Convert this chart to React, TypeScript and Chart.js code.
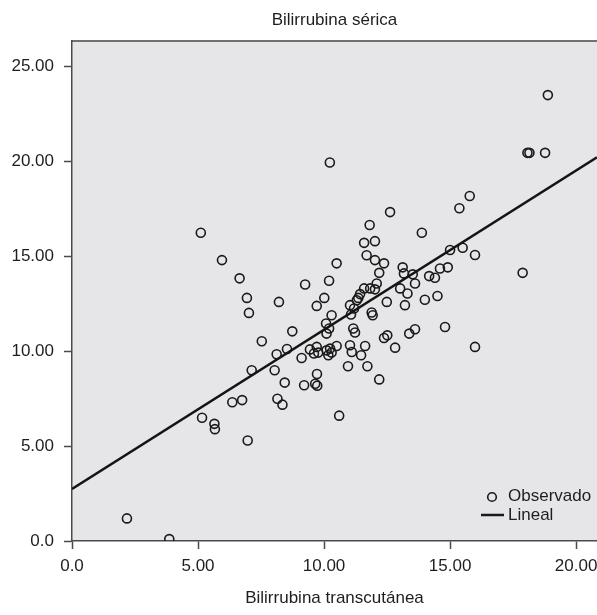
import React, { useEffect, useRef } from "react";
import { Chart, registerables } from "chart.js";

Chart.register(...registerables);

// Observed points: Bilirrubina transcutánea (x) vs Bilirrubina sérica (y)
const obsX: number[] = [
  2.18, 3.86, 5.11, 5.95, 6.65, 6.94, 7.02, 8.21, 9.25, 10.2, 10.5, 10.23,
  7.53, 8.74, 8.53, 8.12, 9.11, 9.44, 9.71, 9.6, 9.77, 10.1, 10.24, 10.17,
  10.3, 10.5, 11.03, 11.1, 11.63, 11.47, 10.95, 11.72, 12.19, 7.13, 8.04, 8.44,
  9.72, 9.21, 9.65, 9.73, 8.15, 8.35, 6.36, 6.75, 5.16, 5.65, 5.67, 6.97,
  10.6, 9.71, 10.01, 11.03, 11.3, 11.36, 11.19, 11.07, 11.89, 11.93, 12.49, 10.3,
  10.08, 10.2, 10.1, 11.16, 11.23, 11.59, 12.02, 11.69, 12.02, 12.38, 12.19, 11.59,
  11.83, 12.02, 12.09, 11.43, 11.81, 12.62, 13.88, 15.0, 15.5, 15.99, 13.12, 13.17,
  13.52, 13.61, 14.17, 14.4, 14.6, 14.91, 13.02, 13.31, 14.0, 14.5, 13.21, 14.8,
  12.38, 12.51, 13.38, 13.61, 12.82, 15.99, 15.37, 15.78, 17.88, 18.07, 18.15, 18.77,
  18.88,
];
const obsY: number[] = [
  1.19, 0.1, 16.23, 14.79, 13.83, 12.8, 12.01, 12.59, 13.51, 13.7, 14.62, 19.93,
  10.52, 11.04, 10.11, 9.83, 9.64, 10.09, 10.22, 9.87, 9.92, 10.04, 10.13, 9.78,
  9.92, 10.27, 10.31, 9.95, 10.27, 9.78, 9.2, 9.2, 8.51, 8.99, 8.99, 8.34,
  8.79, 8.2, 8.28, 8.18, 7.49, 7.18, 7.31, 7.42, 6.49, 6.17, 5.89, 5.29,
  6.6, 12.38, 12.8, 12.42, 12.68, 12.8, 12.24, 11.93, 12.03, 11.89, 12.59, 11.89,
  11.45, 11.19, 10.92, 11.19, 10.98, 15.7, 15.79, 15.05, 14.79, 14.62, 14.12, 13.3,
  13.3, 13.25, 13.56, 13.0, 16.64, 17.32, 16.23, 15.32, 15.44, 15.06, 14.41, 14.09,
  14.04, 13.56, 13.95, 13.86, 14.35, 14.41, 13.3, 13.03, 12.7, 12.9, 12.42, 11.27,
  10.69, 10.83, 10.92, 11.15, 10.18, 10.22, 17.52, 18.17, 14.12, 20.44, 20.44, 20.44,
  23.48,
];

// Linear fit ("Lineal")
const fitX: number[] = [0, 20.83];
const fitY: number[] = [2.74, 20.2];

const xMin = 0;
const xMax = 20.83;
const yMin = 0;
const yMax = 26.36;
const tickStep = 5;

const titleText = "Bilirrubina sérica";
const xTitleText = "Bilirrubina transcutánea";
const legendLabels: string[] = ["Observado", "Lineal"];

const FONT = "'Liberation Sans', Arial, Helvetica, sans-serif";
const TEXT = "#1e1e1e";
const AXIS = "#4a4a4a";
const BG = "#e6e6e8";

const fmt = (v: number) => (v === 0 ? "0.0" : v.toFixed(2));

const bgPlugin = {
  id: "plotBg",
  beforeDraw(chart: any) {
    const { ctx, chartArea: a } = chart;
    ctx.save();
    ctx.fillStyle = BG;
    ctx.fillRect(a.left, a.top, a.right - a.left, a.bottom - a.top);
    ctx.restore();
  },
  afterDraw(chart: any) {
    const { ctx, chartArea: a } = chart;
    ctx.save();
    // top border
    ctx.strokeStyle = AXIS;
    ctx.lineWidth = 1.5;
    ctx.beginPath();
    ctx.moveTo(a.left, a.top + 0.5);
    ctx.lineTo(a.right, a.top + 0.5);
    ctx.stroke();
    // legend
    const cx = a.right - 105;
    const y1 = a.bottom - 45;
    const y2 = a.bottom - 26;
    ctx.strokeStyle = "#1a1a1a";
    ctx.lineWidth = 1.6;
    ctx.beginPath();
    ctx.arc(cx, y1 + 1, 4.3, 0, Math.PI * 2);
    ctx.stroke();
    ctx.lineWidth = 2.5;
    ctx.beginPath();
    ctx.moveTo(a.right - 116, y2);
    ctx.lineTo(a.right - 93, y2);
    ctx.stroke();
    ctx.fillStyle = TEXT;
    ctx.font = `17px ${FONT}`;
    ctx.textAlign = "left";
    ctx.textBaseline = "middle";
    ctx.fillText(legendLabels[0], a.right - 89, y1);
    ctx.fillText(legendLabels[1], a.right - 89, y2);
    ctx.restore();
  },
};

export default function App() {
  const ref = useRef<HTMLCanvasElement | null>(null);
  useEffect(() => {
    if (!ref.current) return;
    const chart = new Chart(ref.current, {
      type: "scatter",
      data: {
        datasets: [
          {
            label: legendLabels[0],
            data: obsX.map((x, i) => ({ x, y: obsY[i] })),
            pointStyle: "circle",
            pointRadius: 4.5,
            pointBorderWidth: 1.6,
            pointBackgroundColor: "rgba(0,0,0,0)",
            pointBorderColor: "#1a1a1a",
            showLine: false,
            order: 2,
          } as any,
          {
            type: "line",
            label: legendLabels[1],
            data: fitX.map((x, i) => ({ x, y: fitY[i] })),
            borderColor: "#141414",
            borderWidth: 2.5,
            pointRadius: 0,
            showLine: true,
            fill: false,
            order: 1,
          } as any,
        ],
      },
      options: {
        responsive: false,
        animation: false,
        layout: { padding: 0, autoPadding: false },
        plugins: {
          legend: { display: false },
          tooltip: { enabled: false },
          title: {
            display: true,
            text: titleText,
            fullSize: false,
            color: TEXT,
            font: { family: FONT, size: 17, weight: "normal", lineHeight: 1.2 },
            padding: { top: 10, bottom: 10 },
          },
        },
        scales: {
          x: {
            type: "linear",
            min: xMin,
            max: xMax,
            afterFit: (s: any) => {
              s.height = 74;
              s.paddingLeft = 0;
              s.paddingRight = 0;
            },
            border: { display: true, color: AXIS, width: 1.5 },
            grid: {
              drawOnChartArea: false,
              drawTicks: true,
              tickLength: 8,
              color: AXIS,
              tickWidth: 1.5,
            },
            ticks: {
              stepSize: tickStep,
              includeBounds: false,
              padding: 7,
              color: TEXT,
              font: { family: FONT, size: 17 },
              maxRotation: 0,
              callback: (v: any) => fmt(Number(v)),
            },
            title: {
              display: true,
              text: xTitleText,
              color: TEXT,
              font: { family: FONT, size: 17, lineHeight: 1.2 },
              padding: { top: 0, bottom: 6 },
            },
          },
          y: {
            type: "linear",
            min: yMin,
            max: yMax,
            afterFit: (s: any) => {
              s.width = 72;
              s.paddingTop = 0;
              s.paddingBottom = 0;
            },
            border: { display: true, color: AXIS, width: 1.5 },
            grid: {
              drawOnChartArea: false,
              drawTicks: true,
              tickLength: 8,
              color: AXIS,
              tickWidth: 1.5,
            },
            ticks: {
              stepSize: tickStep,
              includeBounds: false,
              padding: 10,
              color: TEXT,
              font: { family: FONT, size: 17 },
              callback: (v: any) => fmt(Number(v)),
            },
          },
        },
      } as any,
      plugins: [bgPlugin],
    });
    return () => chart.destroy();
  }, []);
  return (
    <div style={{ position: "absolute", left: 0, top: 0, width: 597, height: 615, background: "#fff" }}>
      <canvas ref={ref} width={597} height={615} style={{ width: 597, height: 615, display: "block" }} />
    </div>
  );
}
